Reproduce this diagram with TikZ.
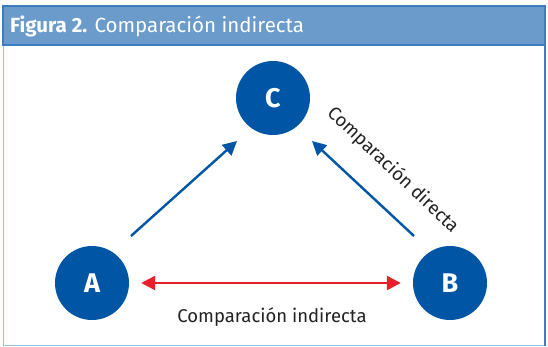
\documentclass[tikz,border=0pt]{standalone}
\usepackage{fontspec}
\setmainfont{Fira Sans}
\usetikzlibrary{arrows.meta}
\definecolor{hdrfill}{HTML}{6A9BCB}
\definecolor{hdrline}{HTML}{3D7CC0}
\definecolor{framel}{HTML}{9DC0E3}
\definecolor{circ}{HTML}{0055A4}
\definecolor{redarr}{HTML}{E8202A}
\definecolor{txt}{HTML}{222222}
\tikzset{
  circnode/.style={circle, fill=circ, minimum size=74pt, inner sep=0pt, text=white, font=\fontsize{27}{29}\selectfont\bfseries},
  bluearrow/.style={draw=circ, line width=2.4pt, -{Triangle[length=14pt,width=14pt]}},
  redarrow/.style={draw=redarr, line width=2.4pt, {Triangle[length=14pt,width=14pt]}-{Triangle[length=14pt,width=14pt]}},
  lbl/.style={text=txt, font=\fontsize{18.5}{20}\selectfont, inner sep=0pt}
}
\begin{document}
\begin{tikzpicture}[x=1pt,y=-1pt]
\useasboundingbox (0,0) rectangle (548,347);
\fill[white] (0,0) rectangle (548,347);
% frame
\draw[framel, line width=1.2pt] (3.5,45) -- (3.5,345.5) -- (545,345.5);
\draw[hdrline, line width=2pt] (545,6) -- (545,346);
\fill[hdrfill] (3,6) rectangle (545,45);
\draw[hdrline, line width=1.5pt] (3,6) rectangle (545,45);
\node[anchor=west, text=white, font=\fontsize{20.5}{22}\selectfont, inner sep=0pt] (title) at (10,26) {\textbf{Figura 2.} Comparación indirecta};
% nodes
\node[circnode] (C) at (273,98) {C};
\node[circnode] (A) at (92,283) {A};
\node[circnode] (B) at (450,283) {B};
\coordinate (a1) at (131,236);
\coordinate (a2) at (237,141);
\coordinate (b1) at (414,236);
\coordinate (b2) at (312,141);
\draw[bluearrow] (a1) -- (a2);
\draw[bluearrow] (b1) -- (b2);
\coordinate (r1) at ([xshift=12pt]A.east);
\coordinate (r2) at ([xshift=-12pt]B.west);
\draw[redarrow] (r1) -- (r2);
\node[lbl] (ind) at (272,317) {Comparación indirecta};
\node[lbl, rotate=-43.5] (dir) at (393,170) {Comparación directa};
\end{tikzpicture}
\end{document}
